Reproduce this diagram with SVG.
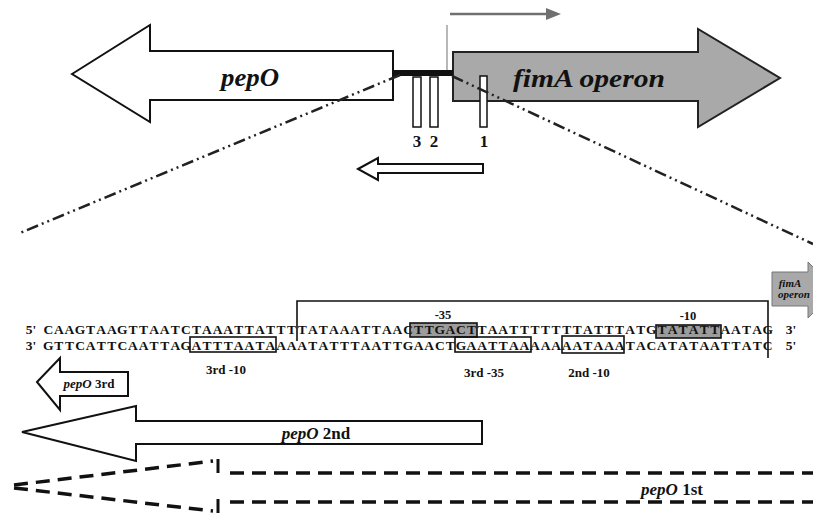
<svg xmlns="http://www.w3.org/2000/svg" width="813" height="513" viewBox="0 0 813 513">
<style>
.arrow{fill:#fff;stroke:#111;stroke-width:2}
.gray{fill:#a9a9a9;stroke:#222;stroke-width:2}
.dd{fill:none;stroke:#222;stroke-width:2.5;stroke-dasharray:12 4 2 4 2 4}
.dash{fill:none;stroke:#111;stroke-width:3.5;stroke-dasharray:14 8}
.seq{font-family:"Liberation Serif",serif;font-size:13.5px;font-weight:bold;fill:#111;text-anchor:middle}
.lab{font-family:"Liberation Serif",serif;font-weight:bold;fill:#111;text-anchor:middle}
.it{font-style:italic}
.box{fill:none;stroke:#111;stroke-width:1.6}
.gbox{fill:#9c9c9c;stroke:#111;stroke-width:1.6}
</style>
<rect width="813" height="513" fill="#fff"/>

<g id="pepO">
<polygon class="arrow" points="72,74 150,25 150,51 393,51 393,100 150,100 150,122"/>
<text class="lab it" x="250" y="86" font-size="26" textLength="58" lengthAdjust="spacingAndGlyphs">pepO</text>
</g>

<g id="fimA-operon">
<polygon class="gray" points="453,52 698,52 698,29 780,78 698,127 698,101 453,101"/>
<text class="lab it" x="589" y="87" font-size="26" textLength="152" lengthAdjust="spacingAndGlyphs">fimA operon</text>
</g>

<g id="intergenic">
<rect x="392" y="70" width="61" height="6" fill="#111"/>
<line x1="447" y1="25" x2="447" y2="70" stroke="#888" stroke-width="1.2"/>
</g>

<g id="transcript-arrow">
<line x1="450" y1="14" x2="548" y2="14" stroke="#707070" stroke-width="2.5"/>
<polygon points="546,8 561,14 546,20" fill="#707070"/>
</g>

<g id="sites">
<rect x="413" y="77" width="8" height="50" fill="#fff" stroke="#111" stroke-width="1.5"/>
<rect x="430" y="77" width="8" height="50" fill="#fff" stroke="#111" stroke-width="1.5"/>
<rect x="480" y="76" width="7" height="51" fill="#fff" stroke="#111" stroke-width="1.5"/>
<text class="lab" x="417" y="147" font-size="17">3</text>
<text class="lab" x="434" y="147" font-size="17">2</text>
<text class="lab" x="484" y="147" font-size="17">1</text>
</g>

<g id="reverse-arrow">
<polygon class="arrow" points="358,169 378,158 378,164 483,164 483,173 378,173 378,180"/>
</g>

<g id="connectors">
<line class="dd" x1="400" y1="75" x2="20" y2="233"/>
<line class="dd" x1="452" y1="76" x2="813" y2="244"/>
</g>

<g id="fimA-small">
<polygon points="772,272 808,272 808,262 836,290 808,318 808,306 772,306" fill="#a9a9a9" stroke="#777" stroke-width="1"/>
<text class="lab it" x="790" y="287" font-size="11">fimA</text>
<text class="lab it" x="794" y="298" font-size="11">operon</text>
</g>

<g id="bracket">
<path d="M297,341 V301 H768 V358" fill="none" stroke="#111" stroke-width="1.6"/>
</g>

<g id="sequence">
<rect class="gbox" x="410" y="323" width="67" height="14"/>
<rect class="gbox" x="656" y="325" width="65" height="13"/>
<rect class="box" x="190" y="337" width="86" height="15"/>
<rect class="box" x="455" y="337" width="76" height="15"/>
<rect class="box" x="562" y="336" width="62" height="17"/>
<text class="seq" x="31" y="334">5'</text>
<text class="seq" x="31" y="350">3'</text>
<text class="seq" x="791" y="334">3'</text>
<text class="seq" x="791" y="350">5'</text>
<text class="seq" y="334" x="48.29 58.87 69.45 80.03 90.61 101.19 111.77 122.35 132.93 143.51 154.09 164.67 175.25 185.83 196.41 206.99 217.57 228.15 238.73 249.31 259.89 270.47 281.05 291.63 302.21 312.79 323.37 333.95 344.53 355.11 365.69 376.27 386.85 397.43 408.01 418.59 429.17 439.75 450.33 460.91 471.49 482.07 492.65 503.23 513.81 524.39 534.97 545.55 556.13 566.71 577.29 587.87 598.45 609.03 619.61 630.19 640.77 651.35 661.93 672.51 683.09 693.67 704.25 714.83 725.41 735.99 746.57 757.15 767.73">CAAGTAAGTTAATCTAAATTATTTTATAAATTAACTTGACTTAATTTTTTTATTTATGTATATTAATAG</text>
<text class="seq" y="350" x="48.29 58.87 69.45 80.03 90.61 101.19 111.77 122.35 132.93 143.51 154.09 164.67 175.25 185.83 196.41 206.99 217.57 228.15 238.73 249.31 259.89 270.47 281.05 291.63 302.21 312.79 323.37 333.95 344.53 355.11 365.69 376.27 386.85 397.43 408.01 418.59 429.17 439.75 450.33 460.91 471.49 482.07 492.65 503.23 513.81 524.39 534.97 545.55 556.13 566.71 577.29 587.87 598.45 609.03 619.61 630.19 640.77 651.35 661.93 672.51 683.09 693.67 704.25 714.83 725.41 735.99 746.57 757.15 767.73">GTTCATTCAATTAGATTTAATAAAATATTTAATTGAACTGAATTAAAAAAATAAATACATATAATTATC</text>
<text class="lab" x="443" y="319" font-size="12.5">-35</text>
<text class="lab" x="688" y="320" font-size="12.5">-10</text>
<text class="lab" x="226" y="374" font-size="13">3rd -10</text>
<text class="lab" x="484" y="377" font-size="13">3rd -35</text>
<text class="lab" x="589" y="377" font-size="13">2nd -10</text>
</g>

<g id="pepO-3rd">
<polygon class="arrow" points="37,382 60,358 60,372 128,372 128,396 60,396 60,410"/>
<text class="lab" x="89" y="388" font-size="13"><tspan class="it">pepO</tspan> 3rd</text>
</g>

<g id="pepO-2nd">
<polygon class="arrow" points="22,432 136,406 136,421 482,421 482,444 136,444 136,461"/>
<text class="lab" x="316" y="439" font-size="17"><tspan class="it">pepO</tspan> 2nd</text>
</g>

<g id="pepO-1st">
<line class="dash" x1="14" y1="485" x2="213" y2="461"/>
<line class="dash" x1="14" y1="488" x2="213" y2="511"/>
<line x1="218" y1="459" x2="218" y2="473" stroke="#111" stroke-width="3"/>
<line x1="218" y1="499" x2="218" y2="513" stroke="#111" stroke-width="3"/>
<line class="dash" x1="230" y1="473" x2="813" y2="473"/>
<line class="dash" x1="230" y1="502" x2="813" y2="502"/>
<text class="lab" x="672" y="495" font-size="17"><tspan class="it">pepO</tspan> 1st</text>
</g>
</svg>
